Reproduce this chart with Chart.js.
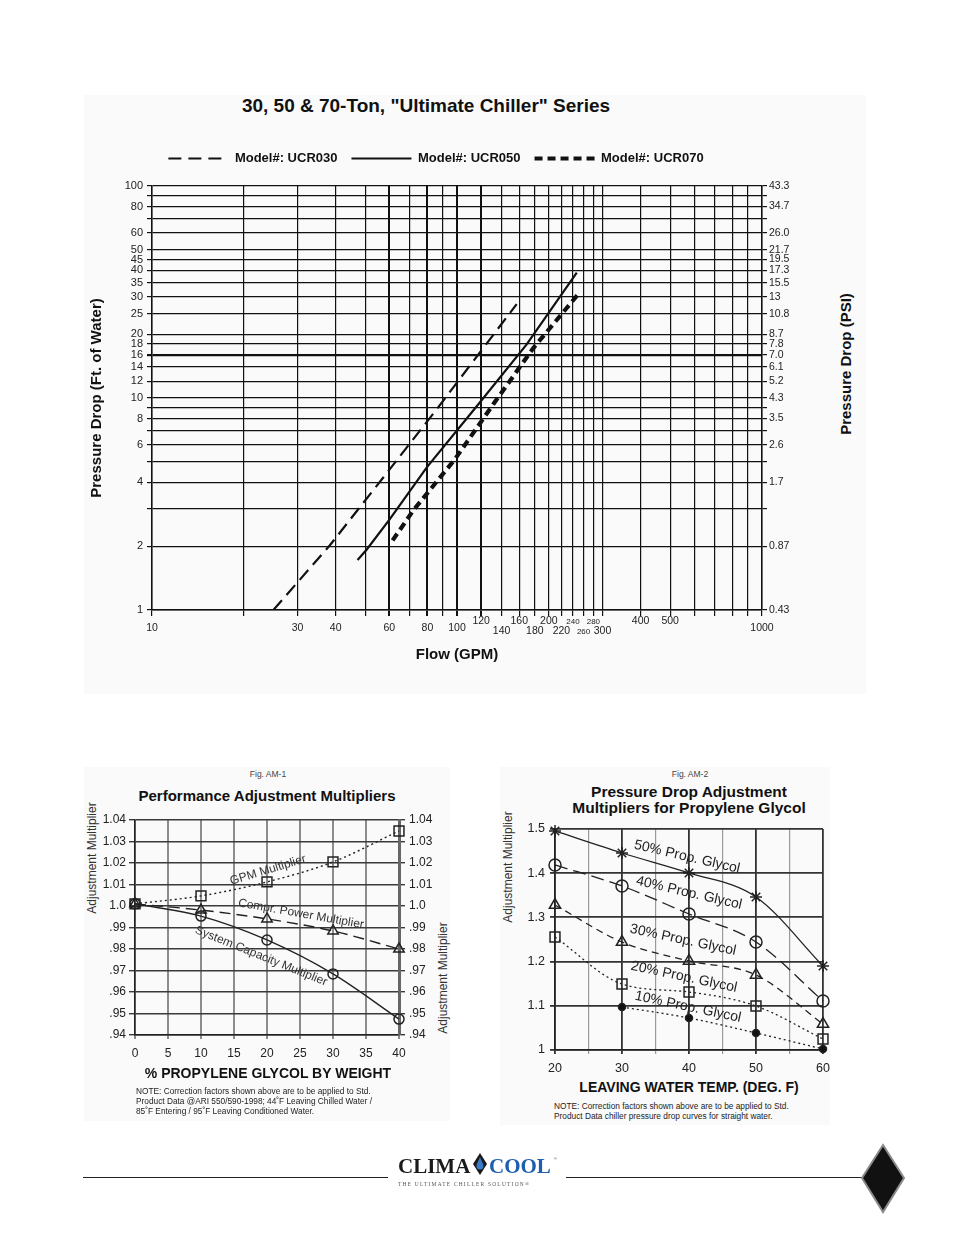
<!DOCTYPE html>
<html>
<head>
<meta charset="utf-8">
<script src="https://cdn.jsdelivr.net/npm/chart.js@4.4.1/dist/chart.umd.min.js"></script>
<style>
  html, body { margin: 0; padding: 0; background: #fff; }
  #page { position: relative; width: 954px; height: 1235px; overflow: hidden; font-family: 'Liberation Sans', Arial, sans-serif; color: #111; }
  .panel { position: absolute; background: #fafafa; }
  canvas { position: absolute; }
  .c { position: absolute; transform: translate(-50%, -50%); white-space: nowrap; }
  .rot { position: absolute; transform: translate(-50%, -50%) rotate(-90deg); white-space: nowrap; }
  .note { position: absolute; font-size: 8.3px; line-height: 10px; color: #222; white-space: nowrap; }
</style>
</head>
<body>
<div id="page">
  <div class="panel" style="left:84px;top:95px;width:782px;height:599px"></div>
  <div class="panel" style="left:84px;top:767px;width:366px;height:354px"></div>
  <div class="panel" style="left:500px;top:767px;width:330px;height:358px"></div>

  <div class="c" style="left:426px;top:106px;font-size:19px;font-weight:bold">30, 50 &amp; 70-Ton, &quot;Ultimate Chiller&quot; Series</div>
  <canvas id="flowChart" width="712" height="540" style="left:80px;top:130px"></canvas>
  <div class="rot" style="left:845px;top:364px;font-size:15px;font-weight:bold">Pressure Drop (PSI)</div>

  <div class="c" style="left:268px;top:774px;font-size:8.5px;color:#444">Fig. AM-1</div>
  <div class="c" style="left:267px;top:795px;font-size:15px;font-weight:bold">Performance Adjustment Multipliers</div>
  <div class="rot" style="left:92px;top:858px;font-size:12px;color:#333">Adjustment Multiplier</div>
  <div class="rot" style="left:443px;top:978px;font-size:12px;color:#333">Adjustment Multiplier</div>
  <canvas id="perfChart" width="375" height="267" style="left:80px;top:800px"></canvas>
  <div class="c" style="left:268px;top:1073px;font-size:14px;font-weight:bold">% PROPYLENE GLYCOL BY WEIGHT</div>
  <div class="note" style="left:136px;top:1086px">NOTE: Correction factors shown above are to be applied to Std.<br>Product Data @ARI 550/590-1998; 44˚F Leaving Chilled Water /<br>85˚F Entering / 95˚F Leaving Conditioned Water.</div>

  <div class="c" style="left:690px;top:774px;font-size:8.5px;color:#444">Fig. AM-2</div>
  <div class="c" style="left:689px;top:800px;font-size:15.5px;font-weight:bold;line-height:16px;text-align:center">Pressure Drop Adjustment<br>Multipliers for Propylene Glycol</div>
  <div class="rot" style="left:508px;top:867px;font-size:12px;color:#333">Adjustment Multiplier</div>
  <canvas id="dropChart" width="340" height="264" style="left:500px;top:815px"></canvas>
  <div class="c" style="left:689px;top:1087px;font-size:14px;font-weight:bold">LEAVING WATER TEMP. (DEG. F)</div>
  <div class="note" style="left:554px;top:1101px">NOTE: Correction factors shown above are to be applied to Std.<br>Product Data chiller pressure drop curves for straight water.</div>

  <svg width="954" height="1235" style="position:absolute;left:0;top:0">
    <line x1="83" y1="1177.5" x2="388" y2="1177.5" stroke="#222" stroke-width="1"/>
    <line x1="566" y1="1177.5" x2="862" y2="1177.5" stroke="#222" stroke-width="1"/>
    <text x="398" y="1173" font-family="'Liberation Serif', serif" font-weight="bold" font-size="21" fill="#1a1a1a">CLIMA</text>
    <polygon points="480,1153 487,1164 480,1175 473,1164" fill="#1a1a1a"/>
    <path d="M480,1157 C478,1162 476.5,1164 476.5,1166 A3.5,3.5 0 0 0 483.5,1166 C483.5,1164 482,1162 480,1157 Z" fill="#3a7bc8"/>
    <text x="489" y="1173" font-family="'Liberation Serif', serif" font-weight="bold" font-size="21" fill="#1d5fae">COOL</text>
    <text x="554" y="1160" font-family="'Liberation Sans', sans-serif" font-size="4" fill="#555">®</text>
    <text x="398" y="1185.5" font-family="'Liberation Serif', serif" font-size="5.4" letter-spacing="1.25" fill="#555">THE ULTIMATE CHILLER SOLUTION®</text>
    <polygon points="883,1145 904,1178 883,1212 862,1178" fill="#111" stroke="#8a8a8a" stroke-width="2"/>
  </svg>
</div>

<script>
// --- TOP CHART: pressure drop vs flow (log-log) ---
const flowGrid = [10, 20, 30, 40, 50, 60, 70, 80, 90, 100, 120, 140, 160, 180, 200, 220, 240, 260, 280, 300, 400, 500, 600, 700, 800, 900, 1000];
const flowLabelsMid = [10, 30, 40, 60, 80, 100, 1000];
const flowLabelsUp = [120, 160, 200, 240, 280, 400, 500];
const flowLabelsLow = [140, 180, 220, 260, 300];
const flowLabelsSmall = [240, 260, 280];

const dropGridFt = [1, 2, 3, 4, 5, 6, 7, 8, 9, 10, 12, 14, 16, 18, 20, 25, 30, 35, 40, 45, 50, 60, 70, 80, 90, 100];
const dropLabelsFt = [1, 2, 4, 6, 8, 10, 12, 14, 16, 18, 20, 25, 30, 35, 40, 45, 50, 60, 80, 100];
const dropLabelsPsi = ['0.43', '0.87', '1.7', '2.6', '3.5', '4.3', '5.2', '6.1', '7.0', '7.8', '8.7', '10.8', '13', '15.5', '17.3', '19.5', '21.7', '26.0', '34.7', '43.3'];

const modelNames = ['Model#: UCR030', 'Model#: UCR050', 'Model#: UCR070'];
const ucr030Flow = [25.0, 38.3, 57.4, 85.8, 126.7, 156.9];
const ucr030Drop = [1.0, 2.02, 4.23, 8.85, 18.5, 27.7];
const ucr050Flow = [47.2, 50.6, 60.3, 79.6, 117.5, 169.2, 247];
const ucr050Drop = [1.72, 1.93, 2.69, 4.71, 9.34, 17.9, 39.0];
const ucr070Flow = [61.5, 71.9, 98.5, 131.5, 177.9, 249.8];
const ucr070Drop = [2.13, 2.95, 5.15, 9.34, 17.2, 30.9];

// --- FIG AM-1: performance multipliers ---
const glycolPct = [0, 10, 20, 30, 40];
const glycolTicks = [0, 5, 10, 15, 20, 25, 30, 35, 40];
const gpmMult = [1.001, 1.0047, 1.0112, 1.0205, 1.0349];
const comprMult = [1.001, 0.9981, 0.994, 0.9884, 0.980];
const capMult = [1.001, 0.9953, 0.9842, 0.9684, 0.9474];
const multTicks = [0.94, 0.95, 0.96, 0.97, 0.98, 0.99, 1.0, 1.01, 1.02, 1.03, 1.04];
const multLabels = ['.94', '.95', '.96', '.97', '.98', '.99', '1.0', '1.01', '1.02', '1.03', '1.04'];
const perfCurveNames = ['GPM Multiplier', 'Compr. Power Multiplier', 'System Capacity Multiplier'];

// --- FIG AM-2: pressure drop multipliers ---
const leavingTemp = [20, 30, 40, 50, 60];
const tempTicks = [20, 25, 30, 35, 40, 45, 50, 55, 60];
const pg50 = [1.4955, 1.4457, 1.4005, 1.3462, 1.19];
const pg40 = [1.4186, 1.371, 1.3077, 1.2443, 1.1109];
const pg30 = [1.328, 1.2443, 1.2014, 1.1697, 1.0588];
const pg20 = [1.2557, 1.1493, 1.1312, 1.0995, 1.0249];
const pg10 = [null, 1.0973, 1.0724, 1.0385, 1.0023];
const dropMultTicks = [1.0, 1.1, 1.2, 1.3, 1.4, 1.5];
const dropMultLabels = ['1', '1.1', '1.2', '1.3', '1.4', '1.5'];
const glycolCurveNames = ['50% Prop. Glycol', '40% Prop. Glycol', '30% Prop. Glycol', '20% Prop. Glycol', '10% Prop. Glycol'];

const FONT = "'Liberation Sans', Arial, sans-serif";
Chart.defaults.font.family = FONT;
Chart.defaults.color = '#222';

const pairs = (xs, ys) => xs.map((x, i) => ({ x: x, y: ys[i] }));
const setTicks = vals => scale => { scale.ticks = vals.map(v => ({ value: v })); };
const rowText = (v, row) => Array(row).fill('').concat(String(v));

// text written along the curves
const curveLabelPlugin = {
    id: 'curveLabels',
    afterDatasetsDraw(chart, args, opts) {
        const { ctx } = chart;
        const xs = chart.scales.x, ys = chart.scales.y;
        ctx.save();
        ctx.font = opts.font;
        ctx.fillStyle = opts.color;
        ctx.textAlign = 'center';
        ctx.textBaseline = 'middle';
        (opts.items || []).forEach(it => {
            ctx.save();
            ctx.translate(xs.getPixelForValue(it.x), ys.getPixelForValue(it.y));
            ctx.rotate(it.angle * Math.PI / 180);
            ctx.fillText(it.text, 0, 0);
            ctx.restore();
        });
        ctx.restore();
    }
};

function renderFlowChart() {
    new Chart(document.getElementById('flowChart'), {
        type: 'line',
        data: {
            datasets: [
                { label: modelNames[0], data: pairs(ucr030Flow, ucr030Drop), borderColor: '#111', borderWidth: 2.2, borderDash: [13, 7], pointRadius: 0 },
                { label: modelNames[1], data: pairs(ucr050Flow, ucr050Drop), borderColor: '#111', borderWidth: 2.2, pointRadius: 0 },
                { label: modelNames[2], data: pairs(ucr070Flow, ucr070Drop), borderColor: '#111', borderWidth: 4.2, borderDash: [8, 5], pointRadius: 0 }
            ]
        },
        options: {
            responsive: false,
            animation: false,
            layout: { padding: { top: 8 } },
            plugins: {
                legend: {
                    position: 'top',
                    labels: {
                        usePointStyle: true, pointStyle: 'line', pointStyleWidth: 60, padding: 14, color: '#111', font: { size: 13, weight: 'bold' },
                        // keep each dataset's dash pattern and width in the legend sample
                        generateLabels: chart => Chart.defaults.plugins.legend.labels.generateLabels(chart).map((item, i) =>
                            Object.assign(item, { lineDash: chart.data.datasets[i].borderDash || [], lineWidth: chart.data.datasets[i].borderWidth }))
                    }
                },
                tooltip: { enabled: false }
            },
            scales: {
                x: {
                    type: 'logarithmic', min: 10, max: 1000,
                    afterBuildTicks: setTicks(flowGrid),
                    afterFit: s => { s.height = 60; },
                    ticks: {
                        autoSkip: false, maxRotation: 0, minRotation: 0, padding: 0, color: '#222',
                        font: c => ({ family: FONT, size: c.tick && flowLabelsSmall.includes(c.tick.value) ? 8 : 10.5, lineHeight: '1px' }),
                        callback: v => {
                            if (flowLabelsUp.includes(v)) return rowText(v, 5);
                            if (flowLabelsLow.includes(v)) return rowText(v, 15);
                            if (flowLabelsMid.includes(v)) return rowText(v, 12);
                            return '';
                        }
                    },
                    grid: { color: '#111', tickLength: 6, lineWidth: c => c.tick && [60, 80, 100, 120].includes(c.tick.value) ? 2 : 1.2 },
                    border: { color: '#111', width: 1.5 },
                    title: { display: true, text: 'Flow (GPM)', color: '#111', font: { size: 15, weight: 'bold' }, padding: { bottom: 6 } }
                },
                // empty spacer between legend and plot
                xTop: {
                    type: 'logarithmic', position: 'top', min: 10, max: 1000,
                    afterFit: s => { s.height = 11; },
                    ticks: { display: false },
                    grid: { display: false, drawTicks: false },
                    border: { display: false }
                },
                y: {
                    type: 'logarithmic', position: 'left', min: 1, max: 100,
                    afterBuildTicks: setTicks(dropGridFt),
                    afterFit: s => { s.width = 72; },
                    ticks: { autoSkip: false, padding: 4, color: '#222', font: { size: 11 }, callback: v => dropLabelsFt.includes(v) ? String(v) : '' },
                    grid: { color: '#111', tickLength: 5, lineWidth: c => c.tick && c.tick.value === 16 ? 2.2 : 1.2 },
                    border: { color: '#111', width: 1.5 },
                    title: { display: true, text: 'Pressure Drop (Ft. of Water)', color: '#111', font: { size: 15, weight: 'bold' }, padding: { top: 8 } }
                },
                y2: {
                    type: 'logarithmic', position: 'right', min: 1, max: 100,
                    afterBuildTicks: setTicks(dropGridFt),
                    afterFit: s => { s.width = 30; },
                    ticks: {
                        autoSkip: false, padding: 2, color: '#222', font: { size: 10.5 },
                        callback: v => { const i = dropLabelsFt.indexOf(v); return i >= 0 ? dropLabelsPsi[i] : ''; }
                    },
                    grid: { drawOnChartArea: false, color: '#111', tickLength: 5, lineWidth: 1.2 },
                    border: { color: '#111', width: 1.5 }
                }
            }
        }
    });
}

function renderPerfChart() {
    const pt = { borderColor: '#222', borderWidth: 1.4, pointBorderColor: '#222', pointBorderWidth: 1.5, pointBackgroundColor: 'rgba(0,0,0,0)', cubicInterpolationMode: 'monotone', clip: false };
    new Chart(document.getElementById('perfChart'), {
        type: 'line',
        data: {
            datasets: [
                Object.assign({ label: perfCurveNames[0], data: pairs(glycolPct, gpmMult), borderDash: [2, 3], pointStyle: 'rect', pointRadius: 7 }, pt),
                Object.assign({ label: perfCurveNames[1], data: pairs(glycolPct, comprMult), borderDash: [11, 6], pointStyle: 'triangle', pointRadius: 6 }, pt),
                Object.assign({ label: perfCurveNames[2], data: pairs(glycolPct, capMult), pointStyle: 'circle', pointRadius: 5 }, pt)
            ]
        },
        plugins: [curveLabelPlugin],
        options: {
            responsive: false,
            animation: false,
            layout: { padding: { top: 20 } },
            plugins: {
                legend: { display: false },
                tooltip: { enabled: false },
                curveLabels: {
                    font: '12px ' + FONT, color: '#333',
                    items: [
                        { text: perfCurveNames[0], x: 20.15, y: 1.0167, angle: -17 },
                        { text: perfCurveNames[1], x: 25.15, y: 0.9963, angle: 10 },
                        { text: perfCurveNames[2], x: 19.1, y: 0.9767, angle: 22 }
                    ]
                }
            },
            scales: {
                x: {
                    type: 'linear', min: 0, max: 40,
                    afterBuildTicks: setTicks(glycolTicks),
                    afterFit: s => { s.height = 32; },
                    ticks: { autoSkip: false, maxRotation: 0, padding: 7, color: '#222', font: { size: 12 } },
                    grid: { color: '#8c8c8c', lineWidth: 2, tickLength: 4 },
                    border: { color: '#222', width: 1.5 }
                },
                y: {
                    min: 0.94, max: 1.04,
                    afterBuildTicks: setTicks(multTicks),
                    afterFit: s => { s.width = 55; },
                    ticks: { autoSkip: false, padding: 3, color: '#222', font: { size: 12 }, callback: (v, i) => multLabels[i] },
                    grid: { color: '#3a3a3a', lineWidth: 1.4, tickLength: 6 },
                    border: { color: '#222', width: 1.5 }
                },
                y2: {
                    position: 'right', min: 0.94, max: 1.04,
                    afterBuildTicks: setTicks(multTicks),
                    afterFit: s => { s.width = 56; },
                    ticks: { autoSkip: false, padding: 4, color: '#222', font: { size: 12 }, callback: (v, i) => multLabels[i] },
                    grid: { drawOnChartArea: false, color: '#3a3a3a', lineWidth: 1.4, tickLength: 6 },
                    border: { color: '#666', width: 3 }
                }
            }
        }
    });
}

function renderDropChart() {
    const pt = { borderColor: '#222', borderWidth: 1.3, pointBorderColor: '#222', pointBorderWidth: 1.5, pointBackgroundColor: 'rgba(0,0,0,0)', cubicInterpolationMode: 'monotone', clip: false };
    new Chart(document.getElementById('dropChart'), {
        type: 'line',
        data: {
            datasets: [
                Object.assign({ label: glycolCurveNames[0], data: pairs(leavingTemp, pg50), pointStyle: 'star', pointRadius: 6 }, pt),
                Object.assign({ label: glycolCurveNames[1], data: pairs(leavingTemp, pg40), borderDash: [13, 6], pointStyle: 'circle', pointRadius: 6 }, pt),
                Object.assign({ label: glycolCurveNames[2], data: pairs(leavingTemp, pg30), borderDash: [7, 5], pointStyle: 'triangle', pointRadius: 6.5 }, pt),
                Object.assign({ label: glycolCurveNames[3], data: pairs(leavingTemp, pg20), borderDash: [2, 3], pointStyle: 'rect', pointRadius: 7 }, pt),
                Object.assign({ label: glycolCurveNames[4], data: pairs(leavingTemp, pg10), borderDash: [2, 3], pointStyle: 'circle', pointRadius: 3.5 }, pt, { pointBackgroundColor: '#111' })
            ]
        },
        plugins: [curveLabelPlugin],
        options: {
            responsive: false,
            animation: false,
            layout: { padding: { top: 14, right: 17 } },
            plugins: {
                legend: { display: false },
                tooltip: { enabled: false },
                curveLabels: {
                    font: '14px ' + FONT, color: '#222',
                    items: [
                        { text: glycolCurveNames[0], x: 39.7, y: 1.4367, angle: 13 },
                        { text: glycolCurveNames[1], x: 40.0, y: 1.3552, angle: 13 },
                        { text: glycolCurveNames[2], x: 39.1, y: 1.2489, angle: 12 },
                        { text: glycolCurveNames[3], x: 39.25, y: 1.1652, angle: 12 },
                        { text: glycolCurveNames[4], x: 39.85, y: 1.0973, angle: 12 }
                    ]
                }
            },
            scales: {
                x: {
                    type: 'linear', min: 20, max: 60,
                    afterBuildTicks: setTicks(tempTicks),
                    afterFit: s => { s.height = 29; },
                    ticks: { autoSkip: false, maxRotation: 0, padding: 7, color: '#222', font: { size: 12.5 }, callback: v => v % 10 === 0 ? String(v) : '' },
                    grid: { tickLength: 4, color: c => c.tick && c.tick.value % 10 === 0 ? '#333' : '#9a9a9a', lineWidth: c => c.tick && c.tick.value % 10 === 0 ? 1.8 : 1.2 },
                    border: { color: '#222', width: 1.5 }
                },
                y: {
                    min: 1.0, max: 1.5,
                    afterBuildTicks: setTicks(dropMultTicks),
                    afterFit: s => { s.width = 55; },
                    ticks: { autoSkip: false, padding: 5, color: '#222', font: { size: 12.5 }, callback: (v, i) => dropMultLabels[i] },
                    grid: { color: '#333', lineWidth: 1.8, tickLength: 5 },
                    border: { color: '#222', width: 1.5 }
                }
            }
        }
    });
}

renderFlowChart();
renderPerfChart();
renderDropChart();
</script>
</body>
</html>
